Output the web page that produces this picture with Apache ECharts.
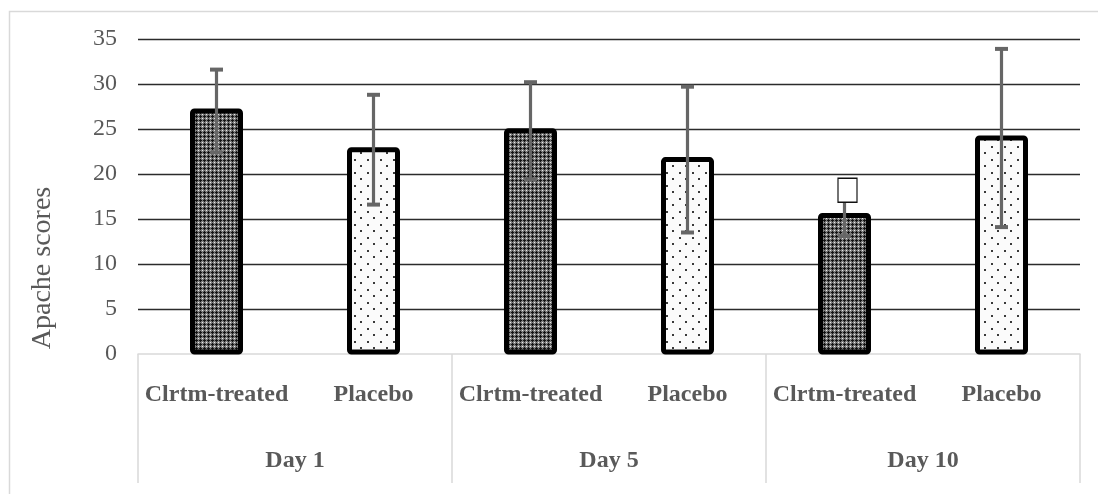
<!DOCTYPE html>
<html>
<head>
<meta charset="utf-8">
<script src="https://cdn.jsdelivr.net/npm/echarts@6/dist/echarts.min.js"></script>
<style>
  html, body { margin: 0; padding: 0; background: #fff; }
  #chart { width: 1098px; height: 494px; }
</style>
</head>
<body>
<div id="chart"></div>
<script>
// APACHE scores by day and treatment group (mean with error bars)
const days = ['Day 1', 'Day 5', 'Day 10'];
const groups = ['Clrtm-treated', 'Placebo'];
const treatedMean = [27.0, 24.8, 15.4];
const treatedErr = [4.6, 5.4, 2.3];
const placeboMean = [22.7, 21.6, 24.0];
const placeboErr = [6.1, 8.1, 9.9];
// open square marker placed above a bar (null where there is none)
const markValue = [null, null, 18.2];
const yTicks = { min: 0, max: 35, interval: 5 };

const FONT = '"Liberation Serif", "Times New Roman", serif';
const TEXT = '#595959';

// fill patterns
function makeDots() {
  const c = document.createElement('canvas');
  c.width = 13; c.height = 13;
  const g = c.getContext('2d');
  g.fillStyle = '#fbfbfb'; g.fillRect(0, 0, 13, 13);
  g.fillStyle = '#3a3a3a';
  g.fillRect(3, 3, 2, 2);
  g.fillRect(9, 9, 2, 2);
  return c;
}
function makeCheck() {
  const c = document.createElement('canvas');
  c.width = 4; c.height = 4;
  const g = c.getContext('2d');
  g.fillStyle = '#7c7c7c'; g.fillRect(0, 0, 4, 4);
  g.fillStyle = '#141414';
  [[0,0],[1,0],[3,0],[0,1],[0,3]].forEach(p => g.fillRect(p[0], p[1], 1, 1));
  g.fillStyle = '#ececec';
  g.fillRect(2, 2, 1, 1);
  return c;
}
const fills = [
  { image: makeCheck(), repeat: 'repeat' },
  { image: makeDots(), repeat: 'repeat' }
];

// flatten into six leaf categories (group within day)
const leafCats = [];
days.forEach(() => groups.forEach(g => leafCats.push(g)));
const barData = [], errData = [], markData = [];
days.forEach((d, i) => {
  barData.push([2 * i, treatedMean[i], 0]);
  barData.push([2 * i + 1, placeboMean[i], 1]);
  errData.push([2 * i, treatedMean[i], treatedErr[i]]);
  errData.push([2 * i + 1, placeboMean[i], placeboErr[i]]);
  if (markValue[i] != null) markData.push([2 * i, markValue[i]]);
});

const gridColors = [];
for (let v = yTicks.min; v <= yTicks.max; v += yTicks.interval) {
  gridColors.push(v === 0 ? 'rgba(0,0,0,0)' : '#2b2b2b');
}

const BAR_W = 48;

const chart = echarts.init(document.getElementById('chart'), null, { renderer: 'canvas' });
chart.setOption({
  animation: false,
  backgroundColor: '#fff',
  grid: { left: 138, right: 18, top: 39, bottom: 140 },
  graphic: [
    {
      type: 'rect', z: -10, silent: true,
      shape: { x: 9.5, y: 11.5, width: 1200, height: 600 },
      style: { fill: 'none', stroke: '#d9d9d9', lineWidth: 1.5 }
    },
    {
      type: 'text', silent: true,
      x: 43, y: 268, rotation: Math.PI / 2,
      style: {
        text: 'Apache scores', font: '28px ' + FONT, fill: TEXT,
        align: 'center', verticalAlign: 'middle'
      }
    }
  ],
  xAxis: [
    {
      type: 'category', data: leafCats, position: 'bottom',
      axisLine: { show: true, lineStyle: { color: '#d9d9d9', width: 1.5 } },
      axisTick: { show: false },
      axisLabel: {
        interval: 0, margin: 29, color: TEXT,
        fontFamily: FONT, fontSize: 24, fontWeight: 'bold'
      },
      splitLine: { show: false }
    },
    {
      type: 'category', data: days, position: 'bottom',
      axisLine: { show: false },
      axisTick: { show: true, length: 129, lineStyle: { color: '#d9d9d9', width: 1.5 } },
      axisLabel: {
        interval: 0, margin: 95, color: TEXT,
        fontFamily: FONT, fontSize: 24, fontWeight: 'bold'
      },
      splitLine: { show: false }
    }
  ],
  yAxis: {
    type: 'value', min: yTicks.min, max: yTicks.max, interval: yTicks.interval,
    axisLine: { show: false }, axisTick: { show: false },
    axisLabel: { margin: 21, color: TEXT, fontFamily: FONT, fontSize: 24 },
    splitLine: { show: true, lineStyle: { color: gridColors, width: 1.4 } }
  },
  series: [
    {
      // bars with a thick outline centred on the bar edge
      type: 'custom', xAxisIndex: 0, data: barData, z: 3,
      renderItem: function (params, api) {
        const x = api.value(0), v = api.value(1), k = api.value(2);
        const top = api.coord([x, v]);
        const base = api.coord([x, 0]);
        return {
          type: 'rect',
          shape: { x: top[0] - BAR_W / 2, y: top[1], width: BAR_W, height: base[1] - top[1] - 2, r: 2 },
          style: { fill: fills[k], stroke: '#000', lineWidth: 5 }
        };
      }
    },
    {
      type: 'custom', xAxisIndex: 0, data: errData, z: 5,
      renderItem: function (params, api) {
        const x = api.value(0), m = api.value(1), e = api.value(2);
        const top = api.coord([x, m + e]);
        const bot = api.coord([x, m - e]);
        const half = 6.5;
        const cap = { stroke: '#666', lineWidth: 4 };
        return {
          type: 'group',
          children: [
            { type: 'line', shape: { x1: top[0], y1: top[1], x2: bot[0], y2: bot[1] }, style: { stroke: '#666', lineWidth: 3.2 } },
            { type: 'line', shape: { x1: top[0] - half, y1: top[1], x2: top[0] + half, y2: top[1] }, style: cap },
            { type: 'line', shape: { x1: bot[0] - half, y1: bot[1], x2: bot[0] + half, y2: bot[1] }, style: cap }
          ]
        };
      }
    },
    {
      type: 'scatter', xAxisIndex: 0, data: markData, z: 6,
      symbol: 'rect', symbolSize: [19, 24], symbolOffset: [3, 0],
      itemStyle: { color: '#fff', borderColor: '#111', borderWidth: 1.3, opacity: 1 }
    }
  ]
});
</script>
</body>
</html>
